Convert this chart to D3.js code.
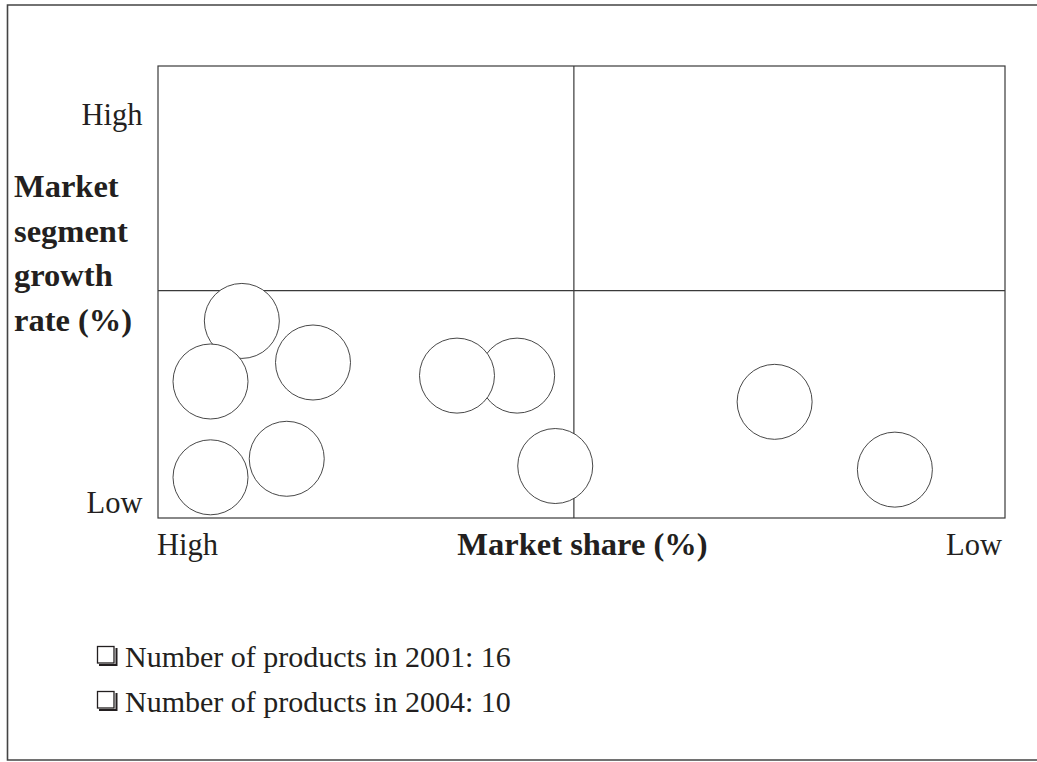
<!DOCTYPE html>
<html>
<head>
<meta charset="utf-8">
<script src="https://cdn.jsdelivr.net/npm/d3@7"></script>
<style>
  html, body { margin: 0; padding: 0; background: #fff; }
  svg { display: block; }
  text { font-family: "Liberation Serif", "Times New Roman", serif; fill: #231f20; }
</style>
</head>
<body>
<svg id="chart" width="1037" height="762"></svg>
<script>
// ---- Data ----
const products = ["P1","P2","P3","P4","P5","P6","P7","P8","P9","P10"];
// market share position (0 = high share at left, 100 = low share at right)
const marketShare = [9.9, 6.2, 18.3, 6.2, 15.2, 42.4, 35.3, 46.9, 72.8, 87.0];
// market segment growth rate position (0 = low, 100 = high)
const growthRate  = [43.6, 30.2, 34.4, 9.0, 13.1, 31.5, 31.5, 11.5, 25.7, 10.7];
const quadrantDividers = { x: 49.1, y: 50.3 };
const xTickLabels = ["High", "Low"];
const yTickLabels = ["High", "Low"];
const xAxisTitle = "Market share (%)";
const yAxisTitle = ["Market", "segment", "growth", "rate (%)"];
const notes = ["Number of products in 2001: 16", "Number of products in 2004: 10"];

// ---- Layout ----
const svg = d3.select("#chart");
const plot = { left: 158, right: 1005, top: 66, bottom: 518 };
const x = d3.scaleLinear().domain([0, 100]).range([plot.left, plot.right]);
const y = d3.scaleLinear().domain([0, 100]).range([plot.bottom, plot.top]);
const lineColor = "#3a3a3a";
const regSize = 30.5, boldSize = 32.5, noteSize = 30;

// outer frame (left, top, bottom edges; right edge runs off the page)
svg.append("path")
  .attr("d", "M1040,5 H7.5 V760 H1040")
  .attr("fill", "none").attr("stroke", "#444").attr("stroke-width", 1.6);

// plot box
svg.append("rect")
  .attr("x", x(0)).attr("y", y(100))
  .attr("width", x(100) - x(0)).attr("height", y(0) - y(100))
  .attr("fill", "none").attr("stroke", lineColor).attr("stroke-width", 1.2);

// quadrant dividers
svg.append("line")
  .attr("x1", x(quadrantDividers.x)).attr("x2", x(quadrantDividers.x))
  .attr("y1", y(100)).attr("y2", y(0))
  .attr("stroke", lineColor).attr("stroke-width", 1.2);
svg.append("line")
  .attr("x1", x(0)).attr("x2", x(100))
  .attr("y1", y(quadrantDividers.y)).attr("y2", y(quadrantDividers.y))
  .attr("stroke", lineColor).attr("stroke-width", 1.2);

// bubbles
const data = products.map((p, i) => ({ name: p, share: marketShare[i], growth: growthRate[i] }));
svg.append("g").selectAll("circle")
  .data(data)
  .join("circle")
  .attr("cx", d => x(d.share))
  .attr("cy", d => y(d.growth))
  .attr("r", 37.5)
  .attr("fill", "#fff")
  .attr("stroke", "#333")
  .attr("stroke-width", 0.9);

// y tick labels
svg.append("text").text(yTickLabels[0])
  .attr("x", 142.5).attr("y", y(100) + 58.5)
  .attr("text-anchor", "end").attr("font-size", regSize);
svg.append("text").text(yTickLabels[1])
  .attr("x", 142.5).attr("y", y(0) - 5)
  .attr("text-anchor", "end").attr("font-size", regSize);

// x tick labels
svg.append("text").text(xTickLabels[0])
  .attr("x", x(0) - 1).attr("y", 554.5)
  .attr("text-anchor", "start").attr("font-size", regSize);
svg.append("text").text(xTickLabels[1])
  .attr("x", x(100) - 3).attr("y", 554.5)
  .attr("text-anchor", "end").attr("font-size", regSize);

// x axis title
svg.append("text").text(xAxisTitle)
  .attr("x", (x(0) + x(100)) / 2 + 1).attr("y", 554.5)
  .attr("text-anchor", "middle").attr("font-size", boldSize).attr("font-weight", "bold");

// y axis title
svg.append("text")
  .attr("font-size", boldSize).attr("font-weight", "bold")
  .selectAll("tspan").data(yAxisTitle).join("tspan")
  .attr("x", 14).attr("y", (d, i) => 197 + i * 44.5)
  .text(d => d);

// notes with box bullets
const noteG = svg.append("g").selectAll("g").data(notes).join("g")
  .attr("transform", (d, i) => `translate(0, ${667 + i * 45})`);
noteG.append("rect")
  .attr("x", 97.5).attr("y", -20.5).attr("width", 16.5).attr("height", 16.5)
  .attr("fill", "#fff").attr("stroke", "#231f20").attr("stroke-width", 1.3);
noteG.append("path")
  .attr("d", "M99,-3 H115.5 V-19 H117.5 V-1 H99 Z")
  .attr("fill", "#231f20");
noteG.append("text").text(d => d)
  .attr("x", 125).attr("y", 0).attr("font-size", noteSize);
</script>
</body>
</html>
